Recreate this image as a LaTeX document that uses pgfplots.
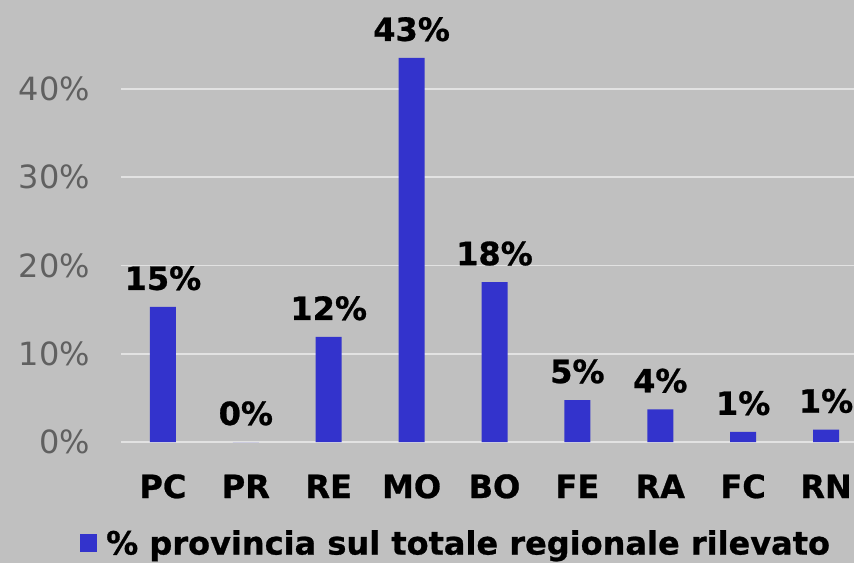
\documentclass[border=0pt]{standalone}
\usepackage{pgfplots}
\pgfplotsset{compat=1.18}
\usepackage{fontspec}
\setmainfont{DejaVu Sans}[BoldFeatures={FakeBold=0.8}]
\definecolor{bg}{HTML}{C0C0C0}
\definecolor{barc}{HTML}{3333CC}
\definecolor{gridc}{HTML}{E2E2E2}
\definecolor{tickc}{HTML}{606060}
\begin{document}
\begin{tikzpicture}
\fill[bg] (-121.5pt,-121pt) rectangle (732.5pt,442pt);
\begin{axis}[
  at={(0,0)}, anchor=south west,
  width=746pt, height=441.5pt, scale only axis,
  xmin=-0.5, xmax=8.5, ymin=0, ymax=50,
  axis line style={draw=none},
  tick style={draw=none},
  major tick length=0pt,
  ymajorgrids,
  grid style={gridc, line width=1.6pt},
  xtick={0,...,8},
  xticklabels={PC,PR,RE,MO,BO,FE,RA,FC,RN},
  ytick={0,10,20,30,40},
  yticklabels={0\%,10\%,20\%,30\%,40\%},
  yticklabel style={font=\fontsize{32}{38}\selectfont, text=tickc, inner sep=0pt, anchor=east, xshift=-31.5pt},
  xticklabel style={font=\fontsize{32}{38}\selectfont\bfseries, inner sep=0pt, anchor=base, yshift=-56pt},
  ybar, bar width=26pt,
  clip=false,
  point meta=explicit symbolic,
  nodes near coords={\pgfplotspointmeta\%},
  nodes near coords style={font=\fontsize{32}{38}\selectfont\bfseries, text=black, inner sep=0pt, anchor=base, yshift=17pt},
  legend style={draw=none, fill=none, at={(-0.0556,-0.229)}, anchor=west,
    font=\fontsize{32}{38}\selectfont\bfseries, inner sep=0pt,
    /tikz/every odd column/.append style={column sep=7pt}},
  legend image code/.code={\fill[barc] (0pt,-9pt) rectangle (17pt,9pt);},
]
\addplot[fill=barc, draw=none] table[x=x, y=y, meta=lab] {
x y lab
0 15.3 15
1 0 0
2 11.9 12
3 43.5 43
4 18.1 18
5 4.75 5
6 3.7 4
7 1.15 1
8 1.4 1
};
\addlegendentry{\% provincia sul totale regionale rilevato}
\end{axis}
\pgfresetboundingbox
\path[use as bounding box] (-121.5pt,-121pt) rectangle (732.5pt,442pt);
\end{tikzpicture}
\end{document}
